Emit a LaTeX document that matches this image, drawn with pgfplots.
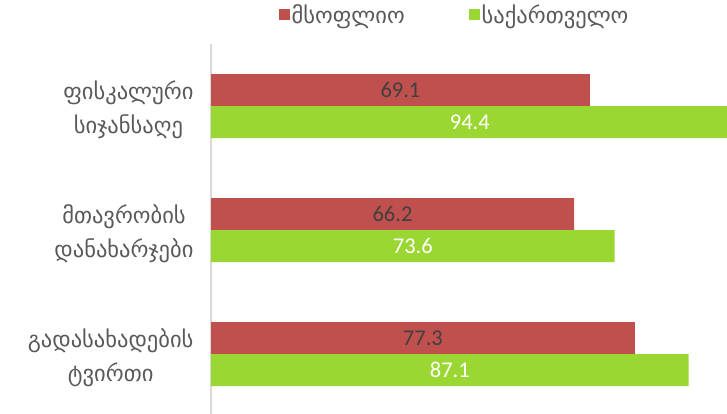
\documentclass[border=0pt]{standalone}
\usepackage{pgfplots}
\pgfplotsset{compat=1.18}
\usepackage{pgfplotstable}
\usepackage{fontspec}
\setmainfont{Carlito}
\newfontfamily\geo{DejaVu Sans}
\definecolor{cred}{HTML}{C0504D}
\definecolor{cgreen}{HTML}{9BD733}
\definecolor{ctext}{HTML}{595959}
\definecolor{cnum}{HTML}{404040}

\pgfplotstableread{
y red green
0 69.1 94.4
1 66.2 73.6
2 77.3 87.1
}\data

\begin{document}
\begin{tikzpicture}
\begin{axis}[
 at={(211pt,-2pt)}, anchor=south west,
 scale only axis, width=516pt, height=372pt,
 bar width=32pt,
 xmin=0, xmax=94.1,
 ymin=-0.5, ymax=2.5, y dir=reverse,
 ytick={0,1,2},
 yticklabels={{ფისკალური\\სიჯანსაღე},{მთავრობის\\დანახარჯები},{გადასახადების\\ტვირთი}},
 yticklabel style={align=center, font=\geo\fontsize{22.5}{34}\selectfont, text=ctext, anchor=east, xshift=-14pt, yshift=-4pt},
 axis x line=none, axis y line*=left,
 y axis line style={draw=black!15, line width=1.5pt, -},
 major tick length=0pt,
 /pgf/number format/assume math mode=true,
 legend style={at={(0.472,1.078)}, anchor=center, draw=none, fill=none,
   legend columns=2, font=\geo\fontsize{22.5}{24}\selectfont, text=ctext,
   /tikz/every even column/.append style={column sep=62pt}},
 legend image code/.code={\fill[#1] (0pt,-5.5pt) rectangle (11pt,5.5pt);},
]
\addplot[xbar, bar shift=16pt, fill=cred, draw=none] table[x=red, y=y] {\data};
\addlegendentry{მსოფლიო}
\addplot[xbar, bar shift=-16pt, fill=cgreen, draw=none] table[x=green, y=y] {\data};
\addlegendentry{საქართველო}
\addplot[draw=none, mark=none, forget plot, nodes near coords, point meta=explicit,
  nodes near coords style={anchor=center, yshift=16pt, font=\fontsize{22.5}{22}\selectfont, text=cnum}]
  table[x expr=\thisrow{red}/2, y=y, meta=red] {\data};
\addplot[draw=none, mark=none, forget plot, nodes near coords, point meta=explicit,
  nodes near coords style={anchor=center, yshift=-16pt, font=\fontsize{22.5}{22}\selectfont, text=white}]
  table[x expr=\thisrow{green}/2, y=y, meta=green] {\data};
\end{axis}
\pgfresetboundingbox
\path[use as bounding box] (0,0) rectangle (727pt,414pt);
\end{tikzpicture}
\end{document}
